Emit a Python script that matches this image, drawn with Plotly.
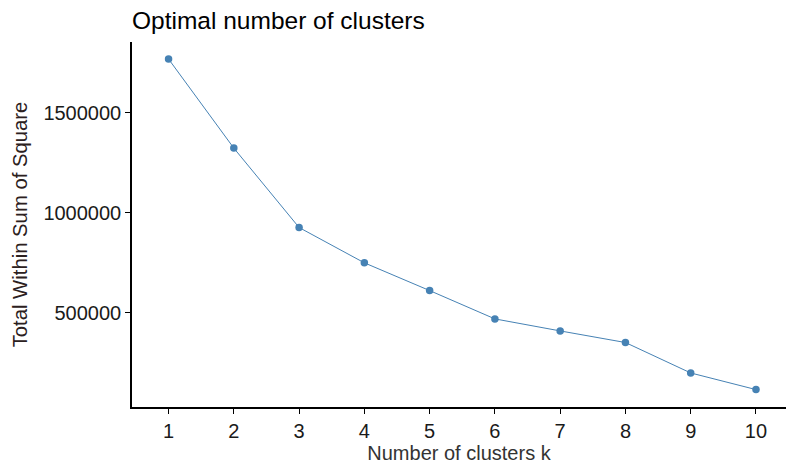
import plotly.graph_objects as go

k = [1, 2, 3, 4, 5, 6, 7, 8, 9, 10]
wss = [1768000, 1323000, 926500, 750000, 611500, 470000, 410000, 352000, 200000, 117000]
y_ticks = [500000, 1000000, 1500000]
y_tick_labels = ["500000", "1000000", "1500000"]

fig = go.Figure()
fig.add_trace(go.Scatter(
    x=k, y=wss, mode="lines+markers",
    line=dict(color="#4682B4", width=1),
    marker=dict(color="#4682B4", size=7.5, symbol="circle"),
    showlegend=False,
))

font_family = "Liberation Sans, Arial, sans-serif"
fig.update_layout(
    width=786, height=467,
    margin=dict(l=132, r=0, t=42, b=60, autoexpand=False),
    paper_bgcolor="white", plot_bgcolor="white",
    font=dict(family=font_family, color="#1a1a1a"),
    title=dict(text="Optimal number of clusters", x=0, xref="paper", xanchor="left",
               y=1 - 20 / 467, yref="container", yanchor="middle",
               font=dict(size=24.5, color="black")),
    xaxis=dict(range=[0.44, 10.46], tickvals=k, ticktext=[str(v) for v in k],
               automargin=False,
               showgrid=False, zeroline=False, showline=True, linecolor="black", linewidth=1.5,
               ticks="outside", ticklen=5, tickcolor="black", tickwidth=1.2,
               tickfont=dict(size=20, color="#1a1a1a"),
               title=dict(text="Number of clusters k", font=dict(size=20, color="#333333"), standoff=4)),
    yaxis=dict(range=[30000, 1853000], tickvals=y_ticks, ticktext=y_tick_labels,
               automargin=False,
               showgrid=False, zeroline=False, showline=True, linecolor="black", linewidth=1.5,
               ticks="outside", ticklen=5, tickcolor="black", tickwidth=1.2,
               tickfont=dict(size=20, color="#1a1a1a"),
               title=dict(text="Total Within Sum of Square", font=dict(size=20.3, color="#2b2020"), standoff=10)),
)

fig.write_html("out.html", config={"displayModeBar": False},
               post_script="document.body.style.margin='0';")
